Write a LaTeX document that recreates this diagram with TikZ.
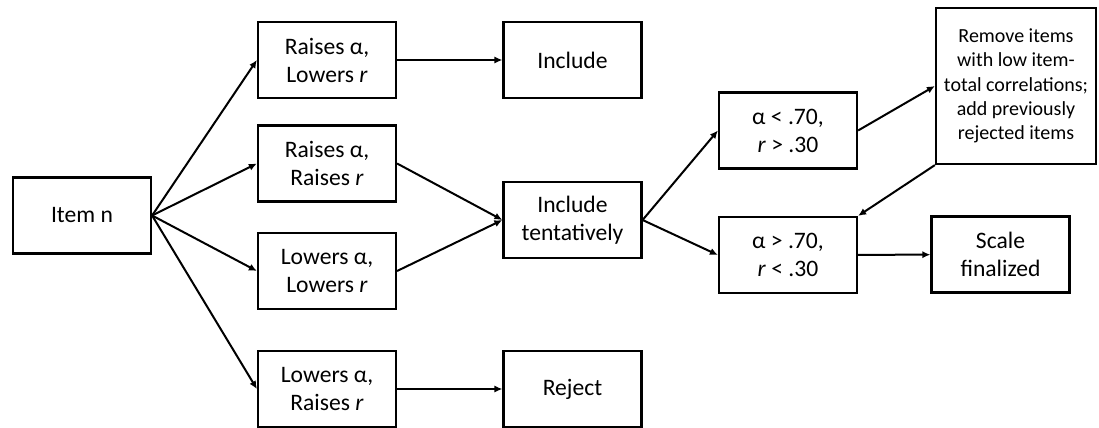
\documentclass[tikz,border=0pt]{standalone}
\usepackage{fontspec}
\setmainfont{Carlito}
\usepackage{tikz}
\usetikzlibrary{arrows.meta}
\tikzset{
box/.style={shape=rectangle, draw=black, line width=1.1pt, minimum width=69pt, minimum height=38pt, inner sep=1pt, align=center, font=\fontsize{11.8}{14}\selectfont},
arr/.style={-{Latex[length=4pt,width=3.6pt]}, line width=1pt}}

\begin{document}
\begin{tikzpicture}[x=0.5pt, y=-0.5pt]
        
                    \useasboundingbox (0,0) rectangle (1099,428);
                    \node[box] (I) at (82,215.5) {Item n};
                    \node[box] (A) at (327,60) {Raises α,\\Lowers \textit{r}};
                    \node[box] (B) at (327,163.5) {Raises α,\\Raises \textit{r}};
                    \node[box] (C) at (327,271) {Lowers α,\\Lowers \textit{r}};
                    \node[box] (D) at (327,389) {Lowers α,\\Raises \textit{r}};
                    \node[box] (E) at (572.5,60) {Include};
                    \node[box] (F) at (572.5,220) {Include\\tentatively};
                    \node[box] (G) at (572.5,389) {Reject};
                    \node[box] (H) at (788,130.5) {α < .70,\\\textit{r} > .30};
                    \node[box] (J) at (788,255) {α > .70,\\\textit{r} < .30};
                    \node[box, minimum width=80pt, minimum height=78pt, font=\fontsize{10}{12.1}\selectfont] (K) at (1016,86) {Remove items\\with low item-\\total correlations;\\add previously\\rejected items};
                    \node[box] (L) at (1000.5,254.5) {Scale\\finalized};
                
                    \draw[arr] (I.east) -- (A.west);
                    \draw[arr] (I.east) -- (B.west);
                    \draw[arr] (I.east) -- (C.west);
                    \draw[arr] (I.east) -- (D.west);
                    \draw[arr] (A) -- (E);
                    \draw[arr] (B.east) -- (F.west);
                    \draw[arr] (C.east) -- (F.west);
                    \draw[arr] (D) -- (G);
                    \draw[arr] (F.east) -- (H.west);
                    \draw[arr] (F.east) -- (J.west);
                    \draw[arr] (H.east) -- (K.west);
                    \draw[arr] (K.south west) -- (J.north east);
                    \draw[arr] (J) -- (L);
            
                \end{tikzpicture}
\end{document}
